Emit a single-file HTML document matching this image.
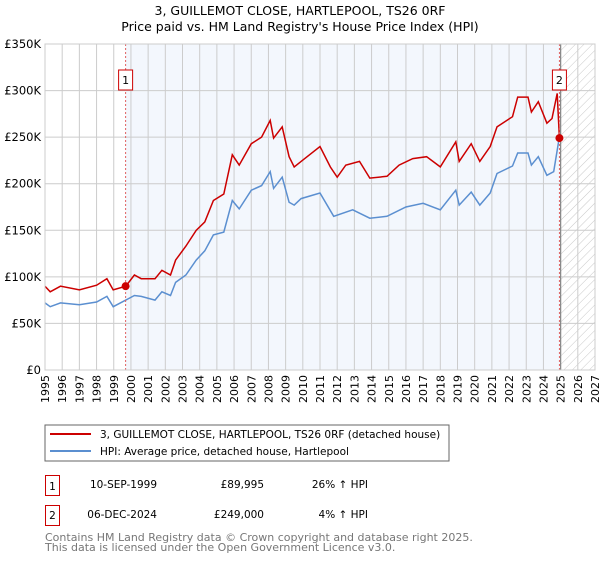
<!DOCTYPE html>
<html><head><meta charset="utf-8"><style>
body{margin:0;background:#fff;font-family:"Liberation Sans","DejaVu Sans",sans-serif;}
svg text{font-family:"DejaVu Sans","Liberation Sans",sans-serif;}
</style></head><body>
<svg id="c" width="600" height="560" viewBox="0 0 600 560" xmlns="http://www.w3.org/2000/svg">
<defs><pattern id="h" width="6" height="6" patternUnits="userSpaceOnUse" patternTransform="rotate(45)"><line x1="0" y1="0" x2="0" y2="6" stroke="#bbb" stroke-width="0.8"/></pattern></defs>
<text x="300" y="15" text-anchor="middle" font-size="12.5" fill="#000">3, GUILLEMOT CLOSE, HARTLEPOOL, TS26 0RF</text>
<text x="300" y="31" text-anchor="middle" font-size="12.5" fill="#000">Price paid vs. HM Land Registry's House Price Index (HPI)</text>
<g id="plot"></g>
<rect x="45" y="425" width="404" height="36" fill="#fff" stroke="#666" stroke-width="1"/>
<line x1="50" y1="434" x2="91" y2="434" stroke="#cc0000" stroke-width="2"/>
<text x="100" y="438" font-size="10.5">3, GUILLEMOT CLOSE, HARTLEPOOL, TS26 0RF (detached house)</text>
<line x1="50" y1="451" x2="91" y2="451" stroke="#5b8fd0" stroke-width="2"/>
<text x="100" y="455" font-size="10.5">HPI: Average price, detached house, Hartlepool</text>
<g>
<rect x="45.5" y="475.5" width="14" height="20" fill="#fff" stroke="#cc0000"/><text x="52.5" y="490" text-anchor="middle" font-size="10.5">1</text>
<text x="157" y="488" font-size="10.5" text-anchor="end">10-SEP-1999</text><text x="264" y="488" font-size="10.5" text-anchor="end">£89,995</text><text x="368" y="488" font-size="10.5" text-anchor="end">26% ↑ HPI</text></g>
<g>
<rect x="45.5" y="505.5" width="14" height="20" fill="#fff" stroke="#cc0000"/><text x="52.5" y="519" text-anchor="middle" font-size="10.5">2</text>
<text x="157" y="518" font-size="10.5" text-anchor="end">06-DEC-2024</text><text x="264" y="518" font-size="10.5" text-anchor="end">£249,000</text><text x="368" y="518" font-size="10.5" text-anchor="end">4% ↑ HPI</text></g>
<text x="45" y="541" font-size="11" fill="#777">Contains HM Land Registry data © Crown copyright and database right 2025.</text>
<text x="45" y="551" font-size="11" fill="#777">This data is licensed under the Open Government Licence v3.0.</text>
</svg>
<script>
const redYears=[1995,1995.3,1995.9,1997,1998,1998.6,1998.97,1999.7,2000.2,2000.6,2001.4,2001.8,2002.3,2002.6,2003.2,2003.8,2004.3,2004.8,2005.4,2005.9,2006.3,2007,2007.6,2008.1,2008.3,2008.8,2009.2,2009.5,2009.9,2011,2011.6,2012,2012.5,2013.3,2013.9,2014.9,2015.6,2016.4,2017.2,2018,2018.9,2019.1,2019.8,2020.3,2020.9,2021.3,2022.2,2022.5,2023.1,2023.3,2023.7,2024.2,2024.5,2024.8,2024.93,2025.05];
const redValues=[90,84,90,86,91,98,86,90,102,98,98,107,102,118,133,150,159,182,189,231,220,243,250,268,249,261,229,218,224,240,218,207,220,224,206,208,220,227,229,218,245,224,243,224,240,261,272,293,293,277,288,265,270,297,249,249];
const hpiYears=[1995,1995.3,1995.9,1997,1998,1998.6,1998.97,1999.7,2000.2,2000.6,2001.4,2001.8,2002.3,2002.6,2003.2,2003.8,2004.3,2004.8,2005.4,2005.9,2006.3,2007,2007.6,2008.1,2008.3,2008.8,2009.2,2009.5,2009.9,2011,2011.8,2012.9,2013.9,2014.9,2016,2017,2018,2018.9,2019.1,2019.8,2020.3,2020.9,2021.3,2022.2,2022.5,2023.1,2023.3,2023.7,2024.2,2024.6,2024.9,2025.05];
const hpiValues=[72,68,72,70,73,79,68,75,80,79,75,84,80,94,102,118,128,145,148,182,173,193,198,213,195,207,180,177,184,190,165,172,163,165,175,179,172,193,177,191,177,190,211,219,233,233,220,229,209,213,247,250];
const yTicks=[0,50,100,150,200,250,300,350];
const xTicks=[1995,1996,1997,1998,1999,2000,2001,2002,2003,2004,2005,2006,2007,2008,2009,2010,2011,2012,2013,2014,2015,2016,2017,2018,2019,2020,2021,2022,2023,2024,2025,2026,2027];
const sales=[{label:"1",year:1999.69,value:90},{label:"2",year:2024.93,value:249}];
const X0=45,X1=595,Y0=370,Y1=44;
const xs=y=>X0+(y-1995)/32*(X1-X0);
const ys=v=>Y0-v/350*(Y0-Y1);
const ns="http://www.w3.org/2000/svg",g=document.getElementById('plot');
function mk(t,a){const e=document.createElementNS(ns,t);for(const k in a)e.setAttribute(k,a[k]);g.appendChild(e);return e;}
let e=mk('rect',{x:xs(sales[0].year),y:Y1,width:xs(2025)-xs(sales[0].year),height:Y0-Y1,fill:'#eef3fc',opacity:0.7});


e=mk('rect',{x:xs(2025),y:Y1,width:X1-xs(2025),height:Y0-Y1,fill:'url(#h)'});


xTicks.forEach(t=>{const l=mk('line',{x1:xs(t),x2:xs(t),y1:Y1,y2:Y0,stroke:'#ccc','stroke-width':1});


const tx=mk('text',{x:0,y:0,'font-size':11,'text-anchor':'end',transform:`translate(${xs(t)+4},${Y0+5}) rotate(-90)`});tx.textContent=t;

});
yTicks.forEach(t=>{const l=mk('line',{x1:X0,x2:X1,y1:ys(t),y2:ys(t),stroke:'#ccc','stroke-width':1});


const tx=mk('text',{x:X0-4,y:ys(t)+4,'font-size':11.5,'text-anchor':'end'});tx.textContent=t===0?'£0':'£'+t+'K';

});
e=mk('line',{x1:xs(2025),x2:xs(2025),y1:Y1,y2:Y0,stroke:'#888','stroke-width':1.2});


const path=(xa,va)=>xa.map((x,i)=>(i?'L':'M')+xs(x).toFixed(1)+' '+ys(va[i]).toFixed(1)).join('');
e=mk('path',{d:path(hpiYears,hpiValues),fill:'none',stroke:'#5b8fd0','stroke-width':1.5});


e=mk('path',{d:path(redYears,redValues),fill:'none',stroke:'#cc0000','stroke-width':1.5});


sales.forEach(s=>{const l=mk('line',{x1:xs(s.year),x2:xs(s.year),y1:Y1,y2:Y0,stroke:'#e06060','stroke-width':1,'stroke-dasharray':'2,2'});


const c=mk('circle',{cx:xs(s.year),cy:ys(s.value),r:4,fill:'#cc0000'});


const b=mk('rect',{x:xs(s.year)-7,y:70,width:14,height:20,fill:'#fff',stroke:'#cc0000'});


const t=mk('text',{x:xs(s.year),y:84,'font-size':11,'text-anchor':'middle'});t.textContent=s.label;

});
e=mk('rect',{x:X0,y:Y1,width:X1-X0,height:Y0-Y1,fill:'none',stroke:'#ccc'});


</script>
</body></html>
